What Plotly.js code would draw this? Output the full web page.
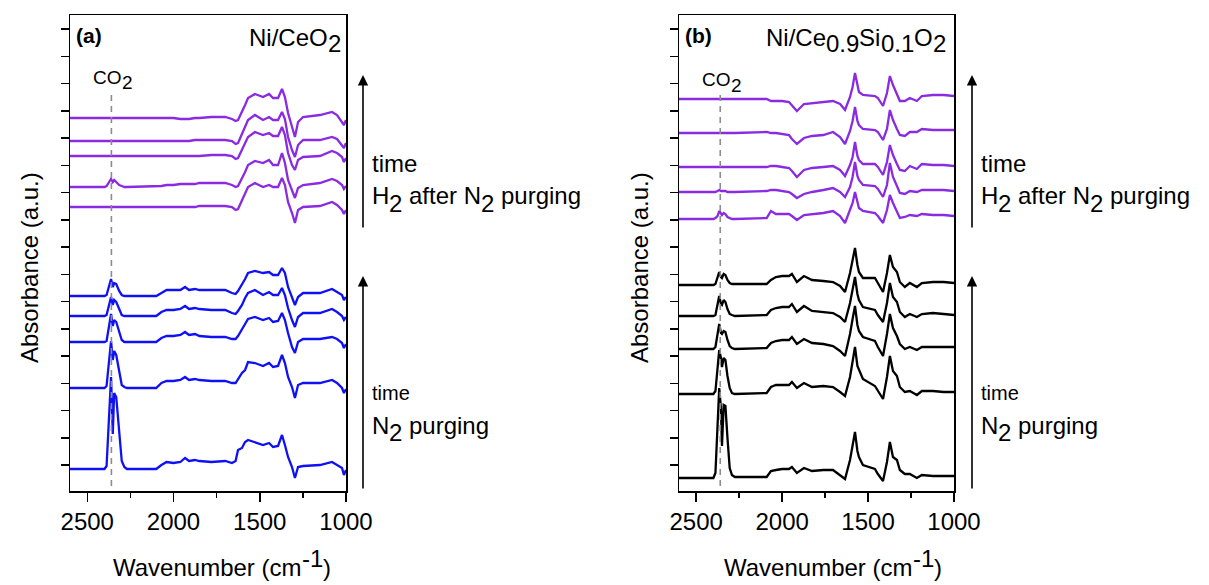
<!DOCTYPE html>
<html>
<head>
<meta charset="utf-8">
<script src="https://cdn.plot.ly/plotly-3.0.1.min.js"></script>
<style>html,body{margin:0;padding:0;background:#fff;}#chart{width:1209px;height:585px;}</style>
</head>
<body>
<div id="chart"></div>
<script>
// ---------- DATA ----------
// Panel (a) Ni/CeO2 : wavenumber grid (cm-1)
const wnA = [2600,2400,2388,2375,2362,2352,2344,2332,2315,2300,2285,2270,2100,2070,2040,2000,1960,1933,1910,1875,1850,1780,1700,1661,1640,1626,1603,1585,1568,1528,1481,1446,1423,1394,1371,1354,1336,1313,1296,1278,1249,1151,1081,1052,1023,1012,1000];
// stacking offsets (a.u.)
const offA_H2 = [373, 350, 335, 304, 284];   // H2 after N2 purging (top -> bottom)
const offA_N2 = [195, 175, 149, 103, 22];    // N2 purging (top -> bottom)
// spectra relative to their offsets
const aH2_1 = [0,0,0,0,0,0,0,0,0,0,0,0, 0,0,0,0,-1,-1,-1,0,0,1,1, -1,-3,-2,6,13,20,24,21,24,20,20,29,21,5,-9,-19,-4,1,3,6,3,-4,-7,-2];
const aH2_2 = [0,0,0,0,0,0,0,0,0,0,0,0, 0,0,0,0,0,0,0,1,1,1,1, 0,-3,-2,7,14,21,26,21,24,21,21,29,22,4,-9,-16,-4,1,1,4,2,-4,-7,-2];
const aH2_3 = [0,0,0,0,0,0,0,0,0,0,0,0, 0,0,0,0,0,0,0,0,0,1,1, 0,-3,-2,7,13,19,24,21,23,20,20,29,21,3,-9,-14,-4,-1,0,5,3,-1,-6,-2];
const aH2_4 = [0,0,1,4,8,5,7,5,2,1,0,0, 1,1,2,2,3,3,3,3,4,4,4, 2,0,1,8,15,22,26,24,27,22,22,34,24,7,-3,-11,-1,2,4,8,6,2,-2,1];
const aH2_5 = [0,0,0,0,0,0,0,0,0,0,0,0, 0,0,0,0,0,0,0,0,1,1,1, 0,-3,-2,7,13,20,24,20,22,20,20,29,22,5,-6,-16,-3,0,1,5,2,-3,-7,-3];
const aN2_1 = [0,0,1,8,17,9,13,12,5,1,0,0, 0,3,6,6,6,9,6,7,6,6,6, 3,2,5,11,17,23,25,23,24,21,21,28,23,9,-2,-9,-1,3,3,7,4,1,-4,-1];
const aN2_2 = [0,0,1,9,19,11,16,14,6,1,0,0, 0,4,6,6,7,10,7,8,7,6,6, 3,2,5,11,18,23,26,21,24,21,21,28,21,8,-4,-11,-1,3,3,7,4,0,-4,-1];
const aN2_3 = [0,0,1,14,28,16,22,20,9,2,0,0, 0,4,6,6,7,10,7,8,6,5,5, 3,3,6,12,18,23,25,22,24,20,21,29,22,9,-5,-11,0,3,3,5,3,-1,-6,-2];
const aN2_4 = [0,0,2,25,47,28,37,33,15,3,1,0, 0,5,7,7,8,11,8,9,8,7,7, 5,5,9,15,18,26,25,22,25,21,22,33,25,11,1,-10,3,5,5,8,5,0,-5,-1];
const aN2_5 = [0,0,3,55,92,35,76,72,40,8,2,0, 0,4,7,6,7,11,8,9,8,7,8, 6,8,19,21,27,29,27,24,26,22,23,34,24,12,2,-9,2,3,4,7,4,1,-6,-1];

// Panel (b) Ni/Ce0.9Si0.1O2
const wnB = [2600,2400,2388,2376,2366,2356,2350,2340,2330,2318,2305,2292,2275,2090,2065,2036,2000,1960,1943,1914,1873,1826,1760,1704,1663,1634,1605,1590,1576,1562,1553,1530,1460,1443,1413,1390,1373,1355,1332,1315,1286,1257,1216,1187,1123,1060,1000];
const offB_H2 = [392, 358, 324, 299, 272];
const offB_N2 = [206, 175, 142, 97, 13];
const bH2_1 = [0,0,0,0,0,0,0,0,0,0,0,0,0, 0,-2,-2,-2,-3,-6,-12,-5,-4,-3,-2,-5,-11,2,12,26,12,7,4,3,1,-7,6,23,14,4,-2,-2,1,-2,3,4,4,3];
const bH2_2 = [0,0,0,0,0,0,0,0,0,0,0,0,0, 1,0,0,-1,-2,-6,-11,-5,-3,-2,1,-4,-11,2,12,26,12,8,4,3,1,-7,4,23,13,4,-2,-3,1,1,4,3,3,3];
const bH2_3 = [0,0,0,0,0,0,0,0,0,0,0,0,0, 0,1,1,0,-1,-4,-10,-3,-1,0,1,-3,-9,2,10,25,11,7,3,3,0,-8,5,22,12,3,-3,-4,1,-2,3,2,2,1];
const bH2_4 = [0,0,0,1,2,1,1,1,1,0,0,0,0, 1,2,2,1,0,-2,-6,-2,0,2,4,0,-5,5,15,30,16,12,7,6,3,-5,7,29,15,6,-1,-2,1,0,2,2,2,1];
const bH2_5 = [0,0,1,3,8,5,4,6,5,2,1,0,0, 1,8,5,5,5,3,-1,4,5,6,8,3,-4,8,16,27,15,11,8,6,3,-4,9,24,16,8,1,2,4,3,5,4,4,3];
const bN2_1 = [0,0,1,8,13,8,7,11,10,5,2,1,1, 1,5,8,9,9,11,3,9,5,4,3,-1,-7,12,24,37,20,13,7,7,2,-7,12,30,18,13,3,-2,2,-2,2,3,3,2];
const bN2_2 = [0,0,1,10,20,12,11,16,14,7,2,1,0, 1,6,8,9,9,12,4,10,5,4,3,-1,-6,13,26,39,22,16,9,6,1,-6,13,33,19,14,4,-1,2,-1,2,3,2,1];
const bN2_3 = [0,0,2,15,25,16,15,18,17,9,3,1,0, 1,6,8,9,9,12,5,10,6,5,3,-2,-7,15,30,43,24,18,12,8,2,-7,15,35,21,13,5,0,2,-1,2,2,2,2];
const bN2_4 = [0,0,3,25,44,36,27,36,34,18,6,1,0, 1,7,9,9,9,12,6,11,7,8,7,2,-2,17,33,47,28,24,15,8,3,-5,17,38,23,18,7,2,3,-1,3,3,2,2];
const bN2_5 = [0,0,5,55,90,70,32,73,72,40,10,3,1, 1,7,8,9,9,11,5,10,7,8,8,3,-1,18,32,46,27,21,13,9,4,-3,16,36,21,18,8,4,4,0,3,2,2,2];

const co2Wavenumber = 2360;
const xTickVals = [2500, 2000, 1500, 1000];
const xTickText = ['2500', '2000', '1500', '1000'];
const xMinorTickVals = [2250, 1750, 1250];

// ---------- BUILD ----------
const W = 1209, H = 585;
const FONT = 'Liberation Sans, Arial, Helvetica, sans-serif';
const PURPLE = '#8a2be2', BLUE = '#1010f5', BLACK = '#000000';
const traces = [];
function add(x, prof, off, color, xa, ya) {
  traces.push({x: x, y: prof.map(v => v + off), xaxis: xa, yaxis: ya, mode: 'lines', type: 'scatter',
    line: {color: color, width: 2.3}, hoverinfo: 'skip'});
}
[aH2_1, aH2_2, aH2_3, aH2_4, aH2_5].forEach((p, i) => add(wnA, p, offA_H2[i], PURPLE, 'x', 'y'));
[aN2_1, aN2_2, aN2_3, aN2_4, aN2_5].forEach((p, i) => add(wnA, p, offA_N2[i], BLUE, 'x', 'y'));
[bH2_1, bH2_2, bH2_3, bH2_4, bH2_5].forEach((p, i) => add(wnB, p, offB_H2[i], PURPLE, 'x2', 'y2'));
[bN2_1, bN2_2, bN2_3, bN2_4, bN2_5].forEach((p, i) => add(wnB, p, offB_N2[i], BLACK, 'x2', 'y2'));

const px = v => v / W, py = v => 1 - v / H;
function xAx(d0, d1, anchor) {
  return {domain: [px(d0), px(d1)], range: [2600, 1000], anchor: anchor, showgrid: false, zeroline: false,
    showline: true, mirror: true, linecolor: '#000', linewidth: 1.5, ticks: 'outside', ticklen: 9,
    tickwidth: 1.5, tickcolor: '#000', tickmode: 'array', tickvals: xTickVals, ticktext: xTickText,
    tickfont: {size: 24, family: FONT, color: '#000'},
    minor: {tickmode: 'array', tickvals: xMinorTickVals, ticks: 'outside', ticklen: 5, tickwidth: 1.5, tickcolor: '#000'}};
}
function yAx(anchor) {
  return {domain: [py(491), py(15)], range: [0, 476], anchor: anchor, showgrid: false, zeroline: false,
    showline: true, mirror: true, linecolor: '#000', linewidth: 1.5, ticks: 'outside', ticklen: 8,
    tickwidth: 1.5, tickcolor: '#000', tickmode: 'linear', tick0: 26, dtick: 27.25, showticklabels: false};
}

const annotations = [];
function txt(x, y, text, size, xanchor, extra) {
  annotations.push(Object.assign({xref: 'paper', yref: 'paper', x: px(x), y: py(y), text: text, showarrow: false,
    xanchor: xanchor || 'left', yanchor: 'middle', borderpad: 0, borderwidth: 0,
    font: {family: FONT, size: size, color: '#000'}}, extra || {}));
}
// text measurement for rich (sub/superscript) labels built from plain segments
const ctx = document.createElement('canvas').getContext('2d');
function meas(s, size) { ctx.font = size + 'px "Liberation Sans", Arial, sans-serif'; return ctx.measureText(s).width; }
function rich(x, y, parts, size, anchor) {
  const widths = parts.map(p => meas(p[0], size));
  const total = widths.reduce((a, b) => a + b, 0);
  let cur = anchor === 'right' ? x - total : anchor === 'center' ? x - total / 2 : x;
  parts.forEach((p, i) => {
    const lead = p[0].length - p[0].replace(/^\s+/, '').length;
    const xoff = lead ? meas(p[0].slice(0, lead), size) : 0;
    txt(cur + xoff, y + p[1], p[0].trim(), size, 'left');
    cur += widths[i];
  });
}
function arrow(x, yTip, yTail) {
  annotations.push({xref: 'paper', yref: 'paper', x: px(x), y: py(yTip), ax: 0, ay: yTail - yTip, axref: 'pixel', ayref: 'pixel',
    text: '', showarrow: true, arrowhead: 2, arrowsize: 1.3, arrowwidth: 1.6, arrowcolor: '#000'});
}
const SUB = 7, SUPR = -9;
txt(76, 35, '<b>(a)</b>', 21);
rich(341, 37, [['Ni/CeO', 0], ['2', SUB]], 24, 'right');
rich(113, 78, [['CO', 0], ['2', 5]], 19, 'center');
txt(685, 35, '<b>(b)</b>', 21);
rich(946, 37, [['Ni/Ce', 0], ['0.9', SUB], ['Si', 0], ['0.1', SUB], ['O', 0], ['2', SUB]], 24, 'right');
rich(722, 80, [['CO', 0], ['2', 5]], 19, 'center');
arrow(363, 75, 229); arrow(363, 276, 490);
arrow(972, 75, 229); arrow(972, 276, 490);
[372, 981].forEach(x0 => {
  txt(x0, 163, 'time', 24);
  rich(x0, 196, [['H', 0], ['2', SUB], [' after N', 0], ['2', SUB], [' purging', 0]], 24, 'left');
  txt(x0, 393, 'time', 20);
  rich(x0, 425, [['N', 0], ['2', SUB], [' purging', 0]], 24, 'left');
});
txt(30, 268, 'Absorbance (a.u.)', 24, 'center', {textangle: -90});
txt(640, 268, 'Absorbance (a.u.)', 24, 'center', {textangle: -90});
rich(222, 567, [['Wavenumber (cm', 0], ['-1', SUPR], [')', 0]], 24, 'center');
rich(833, 567, [['Wavenumber (cm', 0], ['-1', SUPR], [')', 0]], 24, 'center');

const shapes = [
  {type: 'line', xref: 'x', yref: 'y', x0: co2Wavenumber, x1: co2Wavenumber, y0: 5, y1: 396,
    line: {color: '#8c8c8c', width: 1.6, dash: '6px,5px'}},
  {type: 'line', xref: 'x2', yref: 'y2', x0: co2Wavenumber, x1: co2Wavenumber, y0: 5, y1: 396,
    line: {color: '#8c8c8c', width: 1.6, dash: '6px,5px'}}
];
const layout = {
  width: W, height: H, margin: {l: 0, r: 0, t: 0, b: 0}, paper_bgcolor: '#fff', plot_bgcolor: '#fff',
  showlegend: false, font: {family: FONT, color: '#000'},
  xaxis: xAx(70, 346, 'y'), yaxis: yAx('x'),
  xaxis2: xAx(679, 954, 'y2'), yaxis2: yAx('x2'),
  annotations: annotations, shapes: shapes
};
Plotly.newPlot('chart', traces, layout, {staticPlot: true, displayModeBar: false});
</script>
</body>
</html>
